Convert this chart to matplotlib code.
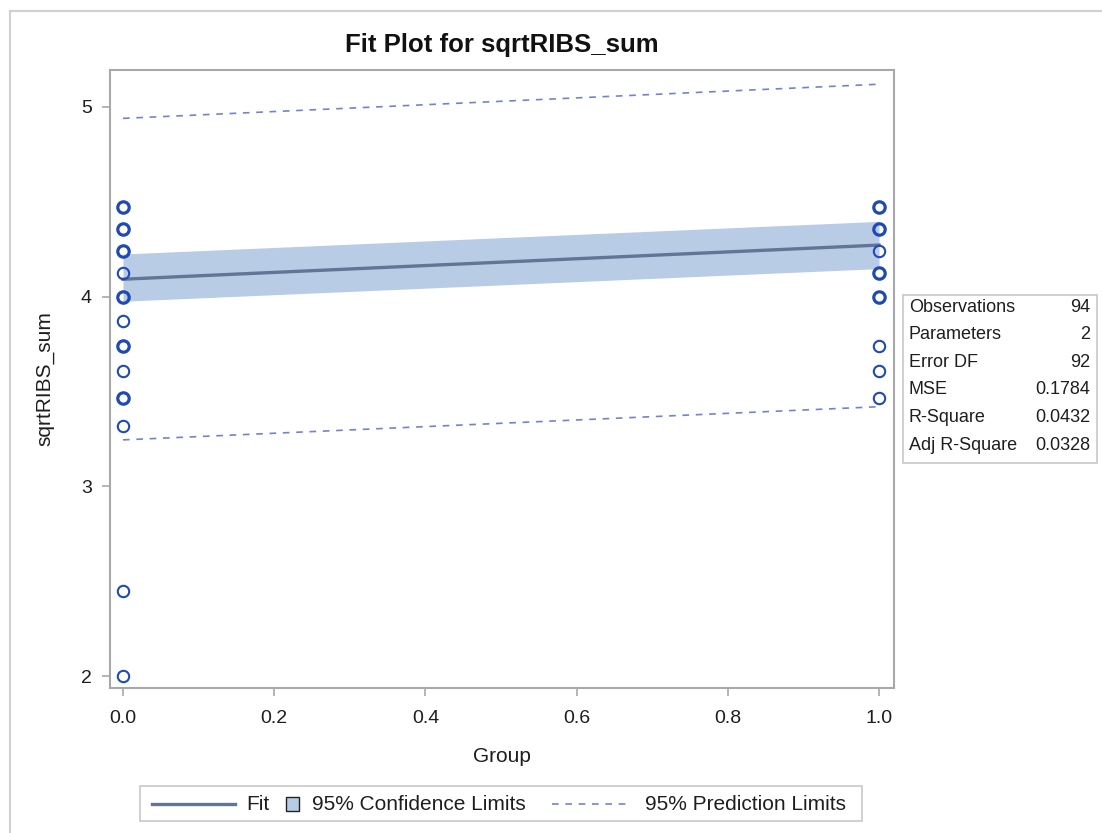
import matplotlib
matplotlib.use("Agg")
import matplotlib.pyplot as plt
from matplotlib.patches import Rectangle
from matplotlib.lines import Line2D

plt.rcParams["font.family"] = ["Liberation Sans", "DejaVu Sans"]

# Observed responses (sqrt of RIBS sum) by group; counts > 1 are overlapping observations
group0_y = [4.472, 4.359, 4.243, 4.123, 4.000, 3.873, 3.742, 3.606, 3.464, 3.317, 2.449, 2.000]
group0_n = [6, 6, 3, 1, 8, 1, 5, 1, 5, 1, 1, 1]
group1_y = [4.472, 4.359, 4.243, 4.123, 4.000, 3.742, 3.606, 3.464]
group1_n = [12, 10, 1, 6, 7, 1, 1, 1]

# Fitted line with confidence and prediction limits at the two ends
fit_x = [0.0, 1.0]
fit_y = [4.092, 4.272]
clm_lower = [3.976, 4.148]
clm_upper = [4.225, 4.397]
plm_lower = [3.245, 3.420]
plm_upper = [4.940, 5.120]

stat_labels = ["Observations", "Parameters", "Error DF", "MSE", "R-Square", "Adj R-Square"]
stat_values = ["94", "2", "92", "0.1784", "0.0432", "0.0328"]

W, H = 1102, 833
fig = plt.figure(figsize=(W / 100, H / 100), dpi=100)

def fx(px):
    return px / W

def fy(py):
    return 1 - py / H

ax = fig.add_axes([fx(110), fy(688), fx(894) - fx(110), fy(70) - fy(688)])

band_color = "#b8cce6"
fit_color = "#637595"
pred_color = "#7183d0"
marker_color = "#1f49b4"
frame_color = "#a6a8ab"
text_color = "#1e1e1e"

ax.fill_between(fit_x, clm_lower, clm_upper, color=band_color, lw=0, zorder=1)
ax.plot(fit_x, fit_y, color=fit_color, lw=2.4, zorder=2)
ax.plot(fit_x, plm_lower, color=pred_color, lw=1.2, dashes=(4, 4), zorder=2)
ax.plot(fit_x, plm_upper, color=pred_color, lw=1.2, dashes=(4, 4), zorder=2)

for xval, ys, ns in [(0.0, group0_y, group0_n), (1.0, group1_y, group1_n)]:
    for yv, n in zip(ys, ns):
        ax.plot([xval], [yv], marker="o", ms=8.2, mfc="none", mec=marker_color,
                mew=1.5 if n == 1 else 2.3, ls="none", zorder=3)

ax.set_xlim(-0.0172, 1.0198)
ax.set_ylim(1.937, 5.195)
ax.set_xticks([0.0, 0.2, 0.4, 0.6, 0.8, 1.0])
ax.set_xticklabels(["0.0", "0.2", "0.4", "0.6", "0.8", "1.0"])
ax.set_yticks([2, 3, 4, 5])
for s in ax.spines.values():
    s.set_color(frame_color)
    s.set_linewidth(1.5)
ax.tick_params(axis="both", colors=frame_color, labelcolor=text_color, length=6,
               width=1.2, labelsize=14)
ax.tick_params(axis="x", pad=10)
ax.tick_params(axis="y", pad=7)
ax.set_xlabel("Group", fontsize=15, color=text_color, labelpad=14)
ax.set_ylabel("sqrtRIBS_sum", fontsize=15, color=text_color, labelpad=19)

fig.text(fx(502), fy(45), "Fit Plot for sqrtRIBS_sum", ha="center", va="center",
         fontsize=18.5, fontweight="bold", color="#111111")

# Statistics inset to the right of the plot area
fig.patches.append(Rectangle((fx(903), fy(463)), fx(1097) - fx(903), fy(295) - fy(463),
                             transform=fig.transFigure, fill=False, ec="#c8c8c8", lw=1.2))
for i, (lab, val) in enumerate(zip(stat_labels, stat_values)):
    yy = fy(307 + i * 27.6)
    fig.text(fx(909), yy, lab, ha="left", va="center", fontsize=13, color=text_color)
    fig.text(fx(1090), yy, val, ha="right", va="center", fontsize=13, color=text_color)

# Legend strip below the plot
fig.patches.append(Rectangle((fx(140), fy(821)), fx(862) - fx(140), fy(786) - fy(821),
                             transform=fig.transFigure, fill=False, ec="#c8c8c8", lw=1.2))
ly = fy(804)
fig.lines.append(Line2D([fx(152), fx(235)], [ly, ly], transform=fig.transFigure,
                        color=fit_color, lw=2.4))
fig.text(fx(246), ly, "Fit", ha="left", va="center", fontsize=15, color=text_color)
fig.patches.append(Rectangle((fx(286), fy(811)), fx(299) - fx(286), fy(797) - fy(811),
                             transform=fig.transFigure, fc=band_color, ec="#222222", lw=1.0))
fig.text(fx(312), ly, "95% Confidence Limits", ha="left", va="center", fontsize=15,
         color=text_color)
fig.lines.append(Line2D([fx(552), fx(628)], [ly, ly], transform=fig.transFigure,
                        color=pred_color, lw=1.2, dashes=(4, 4)))
fig.text(fx(645), ly, "95% Prediction Limits", ha="left", va="center", fontsize=15,
         color=text_color)

# Outer frame lines
fig.lines.append(Line2D([fx(10), fx(10)], [fy(11), 0], transform=fig.transFigure,
                        color="#d0d0d0", lw=1.5))
fig.lines.append(Line2D([fx(10), 1], [fy(11), fy(11)], transform=fig.transFigure,
                        color="#d0d0d0", lw=1.5))

fig.savefig("out.png", dpi=100)
